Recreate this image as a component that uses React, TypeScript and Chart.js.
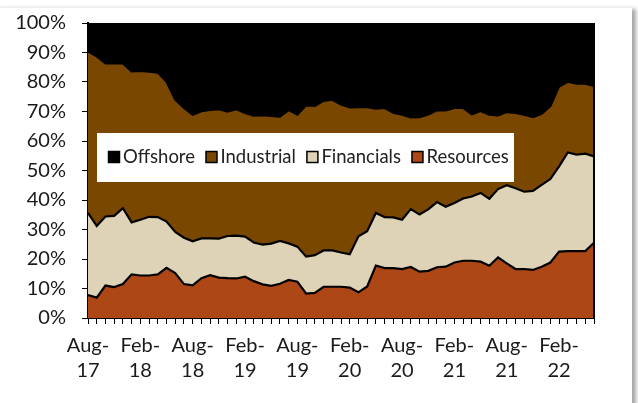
import React, { useEffect, useRef } from "react";
import { Chart, registerables } from "chart.js";

Chart.register(...registerables);

const months = [
  "Aug-17", "Sep-17", "Oct-17", "Nov-17", "Dec-17",
  "Jan-18", "Feb-18", "Mar-18", "Apr-18", "May-18", "Jun-18", "Jul-18", "Aug-18", "Sep-18", "Oct-18", "Nov-18", "Dec-18",
  "Jan-19", "Feb-19", "Mar-19", "Apr-19", "May-19", "Jun-19", "Jul-19", "Aug-19", "Sep-19", "Oct-19", "Nov-19", "Dec-19",
  "Jan-20", "Feb-20", "Mar-20", "Apr-20", "May-20", "Jun-20", "Jul-20", "Aug-20", "Sep-20", "Oct-20", "Nov-20", "Dec-20",
  "Jan-21", "Feb-21", "Mar-21", "Apr-21", "May-21", "Jun-21", "Jul-21", "Aug-21", "Sep-21", "Oct-21", "Nov-21", "Dec-21",
  "Jan-22", "Feb-22", "Mar-22", "Apr-22", "May-22", "Jun-22",
];

const resources = [
  7.8, 6.9, 11.0, 10.5, 11.5, 14.8, 14.4, 14.4, 14.8, 17.0, 15.2, 11.5, 11.1, 13.5, 14.5, 13.7, 13.5, 13.4, 14.0, 12.5,
  11.4, 10.9, 11.6, 12.9, 12.3, 8.3, 8.5, 10.6, 10.6, 10.6, 10.3, 8.7, 10.7, 17.8, 16.9, 16.9, 16.6, 17.3, 15.7, 16.0,
  17.2, 17.4, 18.8, 19.4, 19.4, 19.1, 17.7, 20.5, 18.5, 16.6, 16.6, 16.3, 17.4, 18.8, 22.5, 22.7, 22.7, 22.7, 25.5,
];

const financials = [
  27.8, 24.3, 23.4, 24.1, 25.7, 17.6, 18.9, 19.9, 19.4, 15.7, 14.0, 15.7, 14.9, 13.5, 12.5, 13.2, 14.3, 14.5, 13.6, 13.1,
  13.5, 14.3, 14.5, 12.4, 11.9, 12.5, 12.8, 12.3, 12.3, 11.6, 11.3, 19.0, 18.7, 17.8, 17.3, 17.2, 16.7, 19.6, 19.4, 20.8,
  22.1, 20.3, 20.2, 21.1, 21.8, 23.3, 22.7, 23.2, 26.5, 27.4, 26.2, 26.8, 27.7, 28.3, 28.9, 33.4, 32.7, 33.0, 29.3,
];

const industrial = [
  54.7, 57.5, 51.9, 51.7, 49.1, 51.2, 50.5, 49.2, 49.0, 47.4, 44.8, 44.0, 42.9, 43.1, 43.5, 43.9, 42.2, 42.9, 41.9, 43.0,
  43.9, 43.3, 42.2, 45.2, 44.7, 51.3, 50.6, 50.7, 51.1, 50.2, 49.8, 43.8, 42.1, 35.4, 37.0, 35.5, 35.6, 31.1, 33.0, 32.2,
  31.1, 32.7, 32.2, 30.7, 27.9, 27.8, 28.5, 25.0, 24.8, 25.5, 26.1, 25.0, 24.1, 24.7, 27.1, 24.0, 24.0, 23.7, 23.9,
];

const offshore = [
  9.7, 11.3, 13.7, 13.7, 13.7, 16.4, 16.2, 16.5, 16.8, 19.9, 26.0, 28.8, 31.1, 29.9, 29.5, 29.2, 30.0, 29.2, 30.5, 31.4,
  31.2, 31.5, 31.7, 29.5, 31.1, 27.9, 28.1, 26.4, 26.0, 27.6, 28.6, 28.5, 28.5, 29.0, 28.8, 30.4, 31.1, 32.0, 31.9, 31.0,
  29.6, 29.6, 28.8, 28.8, 30.9, 29.8, 31.1, 31.3, 30.2, 30.5, 31.1, 31.9, 30.8, 28.2, 21.5, 19.9, 20.6, 20.6, 21.3,
];

const seriesNames = ["Resources", "Financials", "Industrial", "Offshore"];
const seriesColors = ["#AD4716", "#DFD3B7", "#7A4700", "#000000"];
const yTicks = [0, 10, 20, 30, 40, 50, 60, 70, 80, 90, 100];

const FONT = "Lato, 'Open Sans', sans-serif";

const legendPlugin = {
  id: "insideLegend",
  afterDatasetsDraw(chart: any) {
    const ctx = chart.ctx;
    const a = chart.chartArea;
    ctx.save();
    // plot border (right edge)
    ctx.strokeStyle = "#000";
    ctx.lineWidth = 2;
    ctx.beginPath();
    ctx.moveTo(a.right, a.top);
    ctx.lineTo(a.right, a.bottom);
    ctx.stroke();

    const bx = a.left + 9;
    const by = a.top + 110;
    ctx.fillStyle = "#fff";
    ctx.fillRect(bx, by, 417, 49);
    ctx.font = "18.5px " + FONT;
    ctx.textBaseline = "alphabetic";
    let x = bx + 11.5;
    const order = [3, 2, 1, 0];
    for (const i of order) {
      ctx.fillStyle = seriesColors[i];
      ctx.fillRect(x, by + 18.5, 11, 11);
      ctx.strokeStyle = "#000";
      ctx.lineWidth = 1.5;
      ctx.strokeRect(x, by + 18.5, 11, 11);
      ctx.fillStyle = "#222";
      const tx = x + 14.5;
      ctx.fillText(seriesNames[i], tx, by + 29.5);
      x = tx + ctx.measureText(seriesNames[i]).width + 11;
    }
    ctx.restore();
  },
};

export default function App() {
  const ref = useRef<HTMLCanvasElement | null>(null);

  useEffect(() => {
    if (!ref.current) return;
    const values = [resources, financials, industrial, offshore];
    const chart = new Chart(ref.current, {
      type: "line",
      data: {
        labels: months,
        datasets: values.map((d, i) => ({
          label: seriesNames[i],
          data: d,
          backgroundColor: seriesColors[i],
          borderColor: "#000",
          borderWidth: 2.2,
          pointRadius: 0,
          tension: 0,
          fill: i === 0 ? "origin" : "-1",
        })),
      },
      options: {
        responsive: false,
        animation: false,
        layout: { padding: { top: 23, right: 38, left: 0, bottom: 0 } },
        plugins: {
          legend: { display: false },
          tooltip: { enabled: false },
        },
        scales: {
          x: {
            type: "category",
            offset: false,
            grid: { drawOnChartArea: false, drawTicks: true, tickLength: 6, color: "#000", lineWidth: 1 },
            border: { display: true, color: "#000", width: 2 },
            ticks: {
              autoSkip: false,
              maxRotation: 0,
              minRotation: 0,
              padding: 9,
              color: "#1a1a1a",
              font: { family: FONT, size: 20, lineHeight: 1.25 },
              callback: (_v: any, idx: number) => {
                const lab = months[idx];
                return idx % 6 === 0 ? [lab.slice(0, 4), lab.slice(4)] : "";
              },
            },
            afterFit: (s: any) => {
              s.height = 85;
              s.paddingLeft = 0;
              s.paddingRight = 0;
            },
          },
          y: {
            stacked: true,
            min: 0,
            max: 100,
            afterBuildTicks: (s: any) => {
              s.ticks = yTicks.map((v) => ({ value: v }));
            },
            grid: { drawOnChartArea: false, drawTicks: true, tickLength: 6, color: "#000", lineWidth: 1 },
            border: { display: true, color: "#000", width: 2 },
            ticks: {
              padding: 16,
              color: "#1a1a1a",
              font: { family: FONT, size: 20 },
              callback: (v: any) => v + "%",
            },
            afterFit: (s: any) => {
              s.width = 88;
              s.paddingTop = 0;
              s.paddingBottom = 0;
            },
          },
        },
      },
      plugins: [legendPlugin],
    });
    return () => chart.destroy();
  }, []);

  return (
    <div style={{ position: "fixed", left: 0, top: 0, width: 638, height: 403, background: "#fff", overflow: "hidden" }}>
      <div
        style={{
          position: "absolute",
          left: -6,
          top: 7,
          width: 638,
          height: 410,
          background: "#fff",
          borderTop: "1px solid #eeeeee",
          boxShadow: "4px 2px 4px rgba(0,0,0,0.35)",
        }}
      />
      <canvas ref={ref} width={632} height={403} style={{ position: "absolute", left: 0, top: 0, width: 632, height: 403 }} />
    </div>
  );
}
